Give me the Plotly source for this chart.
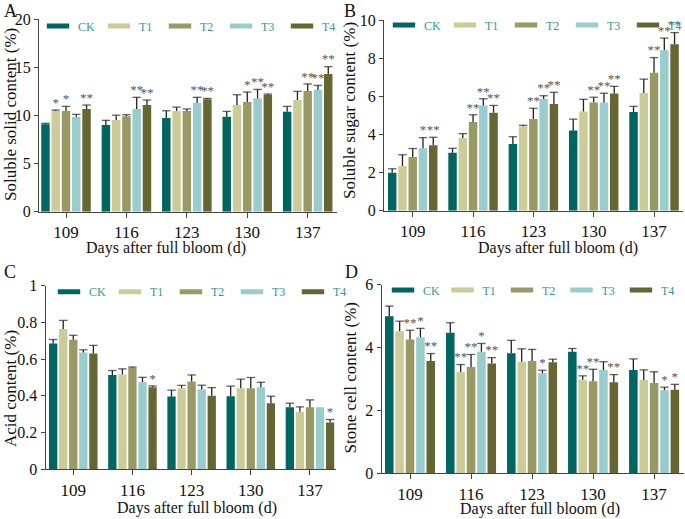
import numpy as np
import plotly.graph_objects as go

# ---------------- data ----------------
days = ["109", "116", "123", "130", "137"]
groups = ["CK", "T1", "T2", "T3", "T4"]

# A: soluble solid content (%)
ssc_mean = [
    [9.07, 9.00, 9.72, 9.86, 10.38],
    [10.45, 9.52, 10.45, 11.07, 11.59],
    [10.45, 9.90, 10.45, 11.38, 12.53],
    [9.86, 10.66, 11.28, 11.76, 12.63],
    [10.66, 11.07, 11.66, 12.11, 14.29],
]
ssc_err = [
    [0.10, 0.48, 0.76, 0.55, 0.55],
    [0.10, 0.50, 0.40, 1.07, 0.90],
    [0.48, 0.17, 0.22, 1.04, 0.73],
    [0.24, 1.21, 0.59, 0.93, 0.48],
    [0.41, 0.52, 0.10, 0.10, 0.76],
]
ssc_sig = [
    ["", "", "", "", ""],
    ["*", "", "", "", ""],
    ["*", "", "", "*", "**"],
    ["", "**", "**", "**", "**"],
    ["**", "**", "**", "**", "**"],
]

# B: soluble sugar content (%)
sugar_mean = [
    [1.99, 3.04, 3.50, 4.21, 5.17],
    [2.34, 3.81, 4.41, 5.20, 6.17],
    [2.81, 4.65, 4.81, 5.67, 7.23],
    [3.27, 5.52, 5.86, 5.67, 8.42],
    [3.43, 5.14, 5.60, 6.14, 8.73],
]
sugar_err = [
    [0.21, 0.23, 0.38, 0.59, 0.30],
    [0.59, 0.23, 0.07, 0.64, 0.73],
    [0.45, 0.38, 0.56, 0.28, 0.80],
    [0.56, 0.35, 0.17, 0.49, 0.63],
    [0.42, 0.38, 0.61, 0.38, 0.61],
]
sugar_sig = [
    ["", "", "", "", ""],
    ["", "", "", "", ""],
    ["", "**", "**", "**", "**"],
    ["*", "**", "**", "**", "**"],
    ["**", "**", "**", "**", "**"],
]

# C: acid content (%)
acid_mean = [
    [0.685, 0.513, 0.396, 0.398, 0.338],
    [0.764, 0.516, 0.442, 0.442, 0.313],
    [0.705, 0.553, 0.478, 0.442, 0.338],
    [0.636, 0.476, 0.436, 0.447, 0.338],
    [0.631, 0.447, 0.400, 0.360, 0.255],
]
acid_err = [
    [0.022, 0.025, 0.035, 0.055, 0.022],
    [0.047, 0.031, 0.015, 0.049, 0.027],
    [0.025, 0.004, 0.036, 0.058, 0.040],
    [0.015, 0.025, 0.022, 0.027, 0.000],
    [0.044, 0.007, 0.045, 0.038, 0.016],
]
acid_sig = [
    ["", "", "", "", ""],
    ["", "", "", "", ""],
    ["", "", "", "", ""],
    ["", "", "", "", ""],
    ["", "*", "", "", "*"],
]

# D: stone cell content (%)
stone_mean = [
    [5.00, 4.47, 3.82, 3.87, 3.29],
    [4.52, 3.22, 3.55, 2.98, 2.97],
    [4.26, 3.38, 3.57, 2.93, 2.87],
    [4.33, 3.87, 3.18, 3.29, 2.64],
    [3.57, 3.49, 3.53, 2.90, 2.66],
]
stone_err = [
    [0.32, 0.32, 0.41, 0.10, 0.35],
    [0.32, 0.24, 0.41, 0.12, 0.32],
    [0.29, 0.40, 0.37, 0.38, 0.36],
    [0.28, 0.26, 0.10, 0.26, 0.10],
    [0.24, 0.19, 0.10, 0.24, 0.17],
]
stone_sig = [
    ["", "", "", "", ""],
    ["", "**", "", "**", ""],
    ["**", "**", "", "**", ""],
    ["*", "*", "*", "", "*"],
    ["**", "**", "", "**", "*"],
]

# ---------------- style ----------------
W, H = 685, 519
FONT = "Liberation Serif, Times New Roman, serif"
colors = ["#00665f", "#cccc99", "#999966", "#99cccc", "#666633"]
AX = "#444444"
PITCH = 0.17
BARW = 0.14


def px_x(v):
    return v / W


def px_y(v):
    return 1 - v / H


panels = [
    dict(mean=ssc_mean, err=ssc_err, sig=ssc_sig, n="", leg="legend",
         dx=[39, 336.7], dy=[211.7, 19], xr=[-0.447, 4.48], yr=[0, 20],
         yt=[0, 5, 10, 15, 20], ytt=["0", "5", "10", "15", "20"],
         legx=38, legy=26, ew=16,
         ytitle="Soluble solid content (%)", ytp=(10, 115), xtp=(166, 248),
         letter="A", lp=(10, 11)),
    dict(mean=sugar_mean, err=sugar_err, sig=sugar_sig, n="2", leg="legend2",
         dx=[384, 683], dy=[210.7, 20], xr=[-0.476, 4.48], yr=[0, 10],
         yt=[0, 2, 4, 6, 8, 10], ytt=["0", "2", "4", "6", "8", "10"],
         legx=384, legy=25, ew=16,
         ytitle="Soluble sugar content (%)", ytp=(350, 111), xtp=(558, 248),
         letter="B", lp=(350, 11)),
    dict(mean=acid_mean, err=acid_err, sig=acid_sig, n="3", leg="legend3",
         dx=[45.7, 336], dy=[469.3, 285.7], xr=[-0.466, 4.44], yr=[0, 1],
         yt=[0, 0.2, 0.4, 0.6, 0.8, 1], ytt=["0", "0.2", "0.4", "0.6", "0.8", "1"],
         legx=49, legy=291.7, ew=16,
         ytitle="Acid content (%)", ytp=(10, 389), xtp=(197, 508),
         letter="C", lp=(10, 272)),
    dict(mean=stone_mean, err=stone_err, sig=stone_sig, n="4", leg="legend4",
         dx=[381.7, 684], dy=[473.3, 284.7], xr=[-0.464, 4.49], yr=[0, 6],
         yt=[0, 2, 4, 6], ytt=["0", "2", "4", "6"],
         legx=383, legy=290, ew=14.5,
         ytitle="Stone cell content (%)", ytp=(350, 377.5), xtp=(540, 509),
         letter="D", lp=(351, 272)),
]

fig = go.Figure()
layout = dict(
    width=W, height=H, margin=dict(l=0, r=0, t=0, b=0, autoexpand=False),
    paper_bgcolor="white", plot_bgcolor="white",
    barmode="overlay", showlegend=True,
    font=dict(family=FONT, color="#222222"),
    annotations=[],
)

cats = np.arange(len(days))
for p in panels:
    xa, ya = "x" + p["n"], "y" + p["n"]
    for j, g in enumerate(groups):
        xs = cats + (j - 2) * PITCH
        m = np.array(p["mean"][j])
        e = np.array(p["err"][j])
        # bars
        fig.add_trace(go.Bar(
            x=xs, y=m, width=BARW, marker=dict(color=colors[j], line=dict(width=0)),
            xaxis=xa, yaxis=ya, showlegend=False, hoverinfo="skip"))
        # one-sided error bars (stem + cap)
        fig.add_trace(go.Scatter(
            x=xs, y=m + e, mode="markers",
            marker=dict(symbol="line-ew", size=[6 if v > 0 else 0 for v in e],
                        line=dict(width=1.3, color="#222222"), color="#222222"),
            error_y=dict(type="data", symmetric=False, array=[0] * len(e),
                         arrayminus=e, width=0, thickness=1.3, color="#222222"),
            cliponaxis=False, xaxis=xa, yaxis=ya, showlegend=False, hoverinfo="skip"))
        # significance marks
        fig.add_trace(go.Scatter(
            x=xs, y=m + e, mode="text",
            text=p["sig"][j], textposition="top center",
            textfont=dict(family=FONT, size=13, color="#555555"),
            cliponaxis=False, xaxis=xa, yaxis=ya, showlegend=False, hoverinfo="skip"))
        # legend entry
        fig.add_trace(go.Scatter(
            x=[None], y=[None], mode="markers", name=g, legend=p["leg"],
            marker=dict(symbol="line-ew", size=16, line=dict(width=5, color=colors[j])),
            xaxis=xa, yaxis=ya))

    xkey = "xaxis" + p["n"]
    ykey = "yaxis" + p["n"]
    layout[xkey] = dict(
        domain=[px_x(p["dx"][0]), px_x(p["dx"][1])], range=p["xr"], anchor=ya,
        tickvals=list(cats), ticktext=days, showline=True, linecolor=AX, linewidth=1.3,
        ticks="outside", ticklen=5, tickwidth=1.3, tickcolor=AX, showgrid=False,
        zeroline=False, tickfont=dict(family=FONT, size=17, color="#111111"), fixedrange=True)
    layout[ykey] = dict(
        domain=[px_y(p["dy"][0]), px_y(p["dy"][1])], range=p["yr"], anchor=xa,
        tickvals=p["yt"], ticktext=p["ytt"], showline=True, linecolor=AX, linewidth=1.3,
        ticks="outside", ticklen=4, tickwidth=1.3, tickcolor=AX, showgrid=False,
        zeroline=False, tickfont=dict(family=FONT, size=16, color="#111111"), fixedrange=True)
    layout[p["leg"]] = dict(
        orientation="h", x=px_x(p["legx"]), xanchor="left", y=px_y(p["legy"]),
        yanchor="middle", bgcolor="rgba(0,0,0,0)", borderwidth=0,
        entrywidth=p["ew"], entrywidthmode="pixels",
        font=dict(family=FONT, size=12, color="#339999"), itemclick=False,
        itemdoubleclick=False)
    layout["annotations"] += [
        dict(text="Days after full bloom (d)", x=px_x(p["xtp"][0]), y=px_y(p["xtp"][1]),
             xref="paper", yref="paper", showarrow=False, xanchor="center", yanchor="middle",
             font=dict(family=FONT, size=16, color="#111111")),
        dict(text=p["ytitle"], x=px_x(p["ytp"][0]), y=px_y(p["ytp"][1]), textangle=-90,
             xref="paper", yref="paper", showarrow=False, xanchor="center", yanchor="middle",
             font=dict(family=FONT, size=17, color="#111111")),
        dict(text=p["letter"], x=px_x(p["lp"][0]), y=px_y(p["lp"][1]),
             xref="paper", yref="paper", showarrow=False, xanchor="center", yanchor="middle",
             font=dict(family=FONT, size=18, color="#111111")),
    ]

fig.update_layout(**layout)
fig.write_html(
    "out.html",
    config={"displayModeBar": False},
    post_script="document.body.style.margin='0';document.body.style.padding='0';document.body.style.overflow='hidden';",
)
